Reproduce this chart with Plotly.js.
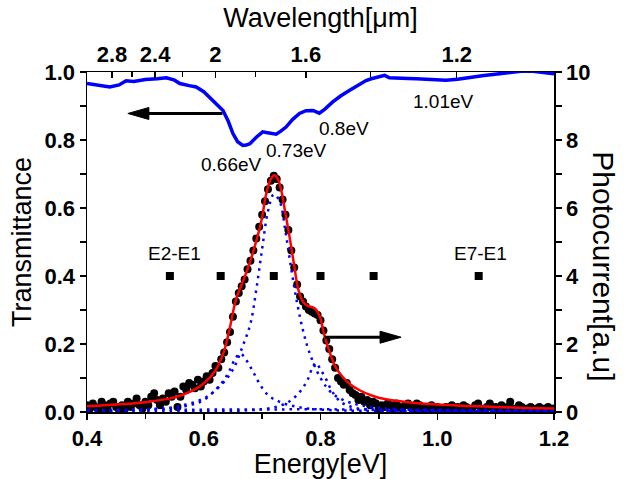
<!DOCTYPE html>
<html>
<head>
<meta charset="utf-8">
<script src="https://cdn.plot.ly/plotly-3.0.1.min.js"></script>
<style>html,body{margin:0;padding:0;background:#fff}#chart{width:636px;height:479px}</style>
</head>
<body>
<div id="chart"></div>
<script>
// Transmittance (left axis) vs energy
const transE = [0.400,0.420,0.439,0.455,0.467,0.480,0.500,0.520,0.536,0.550,0.559,0.575,0.587,0.600,0.610,0.622,0.633,0.642,0.650,0.658,0.667,0.673,0.679,0.690,0.701,0.707,0.713,0.719,0.724,0.732,0.741,0.752,0.764,0.775,0.787,0.798,0.807,0.821,0.835,0.850,0.865,0.878,0.887,0.898,0.910,0.918,0.935,0.950,0.964,0.990,1.015,1.035,1.050,1.080,1.107,1.130,1.147,1.164,1.180,1.200];
const transT = [0.966,0.960,0.956,0.962,0.974,0.972,0.978,0.980,0.983,0.976,0.966,0.960,0.956,0.942,0.926,0.908,0.887,0.855,0.819,0.795,0.784,0.785,0.789,0.808,0.824,0.822,0.821,0.818,0.817,0.826,0.838,0.860,0.878,0.886,0.887,0.879,0.890,0.912,0.930,0.946,0.962,0.975,0.980,0.984,0.990,0.983,0.983,0.981,0.980,0.978,0.976,0.979,0.983,0.990,0.995,0.999,1.003,1.002,0.998,0.995];

// Photocurrent measured data (right axis)
const dataE = [0.400,0.405,0.410,0.415,0.420,0.425,0.430,0.435,0.440,0.445,0.450,0.455,0.460,0.465,0.470,0.475,0.480,0.485,0.490,0.495,0.500,0.505,0.510,0.515,0.520,0.525,0.530,0.535,0.540,0.545,0.550,0.555,0.560,0.565,0.570,0.575,0.580,0.585,0.590,0.595,0.600,0.605,0.610,0.615,0.620,0.625,0.630,0.635,0.640,0.645,0.650,0.655,0.660,0.665,0.670,0.675,0.680,0.685,0.690,0.695,0.700,0.705,0.710,0.715,0.720,0.725,0.730,0.735,0.740,0.745,0.750,0.755,0.760,0.765,0.770,0.775,0.780,0.785,0.790,0.795,0.800,0.805,0.810,0.815,0.820,0.825,0.830,0.835,0.840,0.845,0.850,0.855,0.860,0.865,0.870,0.875,0.880,0.885,0.890,0.895,0.900,0.905,0.910,0.915,0.920,0.925,0.930,0.935,0.940,0.945,0.950,0.955,0.960,0.965,0.970,0.975,0.980,0.985,0.990,0.995,1.000,1.005,1.010,1.015,1.020,1.025,1.030,1.035,1.040,1.045,1.050,1.055,1.060,1.065,1.070,1.075,1.080,1.085,1.090,1.095,1.100,1.105,1.110,1.115,1.120,1.125,1.130,1.135,1.140,1.145,1.150,1.155,1.160,1.165,1.170,1.175,1.180,1.185,1.190,1.195,1.200];
const dataP = [0.20,0.10,0.25,0.15,0.05,0.30,0.20,0.10,0.25,0.30,0.15,0.05,0.20,0.10,0.30,0.15,0.25,0.40,0.20,0.10,0.30,0.20,0.45,0.55,0.35,0.20,0.40,0.30,0.55,0.45,0.60,0.15,0.45,0.75,0.65,0.85,0.80,0.70,0.95,0.75,0.90,1.05,0.95,1.15,1.35,1.30,1.55,1.75,2.05,2.35,2.80,3.25,3.50,3.70,3.90,4.20,4.45,4.75,5.10,5.45,5.80,6.20,6.55,6.80,6.95,6.85,6.60,6.25,5.80,5.35,4.75,4.25,3.75,3.40,3.25,3.10,3.00,2.95,2.90,2.85,2.70,2.40,2.10,1.85,1.55,1.30,1.00,0.90,0.80,0.85,0.65,0.55,0.50,0.35,0.45,0.30,0.35,0.20,0.30,0.25,0.10,0.20,0.15,0.25,0.20,0.10,0.25,0.15,0.10,0.20,0.25,0.15,0.10,0.25,0.20,0.05,0.15,0.10,0.20,0.05,0.15,0.10,0.05,0.15,0.10,0.20,0.05,0.15,0.10,0.20,0.15,0.05,0.10,0.20,0.25,0.10,0.05,0.15,0.25,0.10,0.15,0.05,0.20,0.10,0.15,0.30,0.10,0.05,0.20,0.15,0.05,0.10,0.15,0.05,0.10,0.15,0.05,0.10,0.15,0.05,0.10];

// Total fit (red)
const fitE = [0.40,0.45,0.50,0.55,0.58,0.60,0.62,0.635,0.645,0.655,0.665,0.675,0.687,0.699,0.707,0.715,0.721,0.727,0.733,0.739,0.747,0.755,0.762,0.770,0.778,0.787,0.793,0.799,0.806,0.815,0.825,0.838,0.852,0.867,0.89,0.91,0.95,1.00,1.05,1.10,1.15,1.20];
const fitP = [0.17,0.22,0.29,0.43,0.62,0.84,1.22,1.80,2.50,3.30,3.75,4.20,4.85,5.64,6.42,6.85,6.96,6.85,6.50,5.93,5.15,4.30,3.60,3.25,3.12,3.08,3.00,2.80,2.30,1.80,1.35,1.03,0.80,0.64,0.47,0.38,0.29,0.22,0.18,0.15,0.12,0.10];

// Fit components (blue dotted)
const peak1E = [0.40,0.50,0.55,0.58,0.60,0.62,0.635,0.645,0.655,0.663,0.672,0.684,0.695,0.71,0.73,0.76,0.80,0.90,1.20];
const peak1P = [0.03,0.06,0.12,0.22,0.35,0.65,0.95,1.25,1.60,1.72,1.55,1.20,0.85,0.50,0.30,0.15,0.07,0.03,0.01];
const peak2E = [0.40,0.50,0.55,0.60,0.63,0.65,0.667,0.68,0.69,0.70,0.71,0.72,0.73,0.74,0.75,0.76,0.77,0.78,0.80,0.82,0.85,0.90,1.00,1.20];
const peak2P = [0.02,0.08,0.15,0.40,0.80,1.25,1.95,2.60,3.60,4.80,5.90,6.40,6.20,5.30,4.20,3.20,2.40,1.80,1.00,0.55,0.28,0.12,0.05,0.02];
const peak3E = [0.40,0.60,0.70,0.73,0.75,0.765,0.778,0.786,0.792,0.80,0.81,0.82,0.836,0.86,0.90,1.00,1.20];
const peak3P = [0.01,0.02,0.08,0.18,0.35,0.60,0.95,1.30,1.44,1.25,0.95,0.60,0.28,0.12,0.05,0.02,0.01];
const baseE = [0.40,0.50,0.60,0.70,0.80,0.90,1.00,1.10,1.20];
const baseP = [0.06,0.07,0.08,0.08,0.08,0.07,0.06,0.06,0.05];

// Transition energies (squares)
const transitionE = [0.542,0.629,0.720,0.800,0.891,1.071];
const transitionP = [4,4,4,4,4,4];

// Top axis: wavelength ticks
const wlLabels = ['2.8','2.4','2','1.6','1.2'];
const wlEnergy = [0.4429,0.5167,0.6200,0.7750,1.0333];
const wlMinorEnergy = [0.4769,0.5636,0.6889,0.8857];

const FONT = 'Liberation Sans, Arial, sans-serif';
const blue = '#0000ff';
const dotDash = '2.5px,5px';

const traces = [
  {x: transE, y: transT, xaxis:'x', yaxis:'y', mode:'lines', line:{color:blue, width:3.5}, hoverinfo:'skip'},
  {x: dataE, y: dataP, xaxis:'x', yaxis:'y2', mode:'markers', marker:{color:'black', size:8}, hoverinfo:'skip'},
  {x: baseE, y: baseP, xaxis:'x', yaxis:'y2', mode:'lines', line:{color:blue, width:2.5, dash:dotDash}, hoverinfo:'skip'},
  {x: peak1E, y: peak1P, xaxis:'x', yaxis:'y2', mode:'lines', line:{color:blue, width:2.5, dash:dotDash, shape:'spline'}, hoverinfo:'skip'},
  {x: peak2E, y: peak2P, xaxis:'x', yaxis:'y2', mode:'lines', line:{color:blue, width:2.5, dash:dotDash, shape:'spline'}, hoverinfo:'skip'},
  {x: peak3E, y: peak3P, xaxis:'x', yaxis:'y2', mode:'lines', line:{color:blue, width:2.5, dash:dotDash, shape:'spline'}, hoverinfo:'skip'},
  {x: fitE, y: fitP, xaxis:'x', yaxis:'y2', mode:'lines', line:{color:'#ff0000', width:2.5, shape:'spline'}, hoverinfo:'skip'},
  {x: transitionE, y: transitionP, xaxis:'x', yaxis:'y2', mode:'markers', marker:{color:'black', size:8, symbol:'square'}, hoverinfo:'skip'},
  {x: [0.4,1.2], y:[0.5,0.5], xaxis:'x2', yaxis:'y', mode:'none', hoverinfo:'skip', showlegend:false}
];

const tickFont = {family: FONT, size: 22, color: 'black', weight: 'bold'};
const titleFont = {family: FONT, size: 27, color: 'black'};
const annFont = {family: FONT, size: 19, color: 'black'};

const layout = {
  width: 636, height: 479,
  margin: {l: 87, r: 82, t: 72, b: 67, pad: 0},
  paper_bgcolor: 'white', plot_bgcolor: 'white',
  showlegend: false,
  xaxis: {
    range: [0.4, 1.2], dtick: 0.2, tick0: 0.4, tickformat: '.1f',
    showgrid: false, zeroline: false, showline: true, linecolor: 'black', linewidth: 1.5,
    ticks: 'outside', ticklen: 6, tickwidth: 1.5, tickcolor: 'black',
    minor: {dtick: 0.1, ticks: 'outside', ticklen: 5, tickwidth: 1.5, tickcolor: 'black', showgrid: false},
    tickfont: tickFont,
    title: {text: 'Energy[eV]', font: titleFont, standoff: 3},
    anchor: 'y'
  },
  xaxis2: {
    range: [0.4, 1.2], overlaying: 'x', side: 'top', anchor: 'y',
    tickmode: 'array', tickvals: wlEnergy, ticktext: wlLabels,
    showgrid: false, zeroline: false, showline: true, linecolor: 'black', linewidth: 1.5,
    ticks: 'inside', ticklen: 6, tickwidth: 1.5, tickcolor: 'black',
    minor: {tickmode: 'array', tickvals: wlMinorEnergy, ticks: 'inside', ticklen: 5, tickwidth: 1.5, tickcolor: 'black', showgrid: false},
    tickfont: tickFont,
    title: {text: 'Wavelength[μm]', font: titleFont, standoff: 6}
  },
  yaxis: {
    range: [0, 1.0], dtick: 0.2, tick0: 0, tickformat: '.1f',
    showgrid: false, zeroline: false, showline: true, linecolor: 'black', linewidth: 1.5,
    ticks: 'outside', ticklen: 6, tickwidth: 1.5, tickcolor: 'black',
    minor: {dtick: 0.1, ticks: 'outside', ticklen: 6, tickwidth: 1.5, tickcolor: 'black', showgrid: false},
    tickfont: tickFont,
    title: {text: 'Transmittance', font: titleFont, standoff: 5},
    anchor: 'x'
  },
  yaxis2: {
    range: [0, 10], dtick: 2, tick0: 0, overlaying: 'y', side: 'right', anchor: 'x',
    showgrid: false, zeroline: false, showline: true, linecolor: 'black', linewidth: 1.5,
    ticks: 'outside', ticklen: 6, tickwidth: 1.5, tickcolor: 'black',
    minor: {dtick: 1, ticks: 'outside', ticklen: 6, tickwidth: 1.5, tickcolor: 'black', showgrid: false},
    tickfont: tickFont
  },
  annotations: [
    {xref:'paper', yref:'paper', x: 1.107, y: 0.4285, text: 'Photocurrent[a.u]', textangle: 90, showarrow: false, font: {family: FONT, size: 30, color: 'black'}, xanchor:'center', yanchor:'middle'},
    {xref:'x', yref:'y', x: 0.648, y: 0.728, text: '0.66eV', showarrow: false, font: annFont},
    {xref:'x', yref:'y', x: 0.7596, y: 0.770, text: '0.73eV', showarrow: false, font: annFont},
    {xref:'x', yref:'y', x: 0.8404, y: 0.834, text: '0.8eV', showarrow: false, font: annFont},
    {xref:'x', yref:'y', x: 1.0103, y: 0.912, text: '1.01eV', showarrow: false, font: annFont},
    {xref:'x', yref:'y2', x: 0.550, y: 4.67, text: 'E2-E1', showarrow: false, font: annFont},
    {xref:'x', yref:'y2', x: 1.074, y: 4.67, text: 'E7-E1', showarrow: false, font: annFont}
  ],
  shapes: [
    // left arrow (points to transmittance axis)
    {type:'line', xref:'x', yref:'y', x0: 0.632, x1: 0.495, y0: 0.878, y1: 0.878, line:{color:'black', width:3}},
    {type:'path', xref:'x', yref:'y', xsizemode:'pixel', ysizemode:'pixel', xanchor: 0.470, yanchor: 0.878,
     path:'M0,0 L21,6 L21,-6 Z', fillcolor:'black', line:{color:'black', width:1}},
    // right arrow (points to photocurrent axis)
    {type:'line', xref:'x', yref:'y2', x0: 0.807, x1: 0.915, y0: 2.2, y1: 2.2, line:{color:'black', width:3}},
    {type:'path', xref:'x', yref:'y2', xsizemode:'pixel', ysizemode:'pixel', xanchor: 0.938, yanchor: 2.2,
     path:'M0,0 L-21,6 L-21,-6 Z', fillcolor:'black', line:{color:'black', width:1}}
  ]
};

Plotly.newPlot('chart', traces, layout, {staticPlot: true, displayModeBar: false});
</script>
</body>
</html>
